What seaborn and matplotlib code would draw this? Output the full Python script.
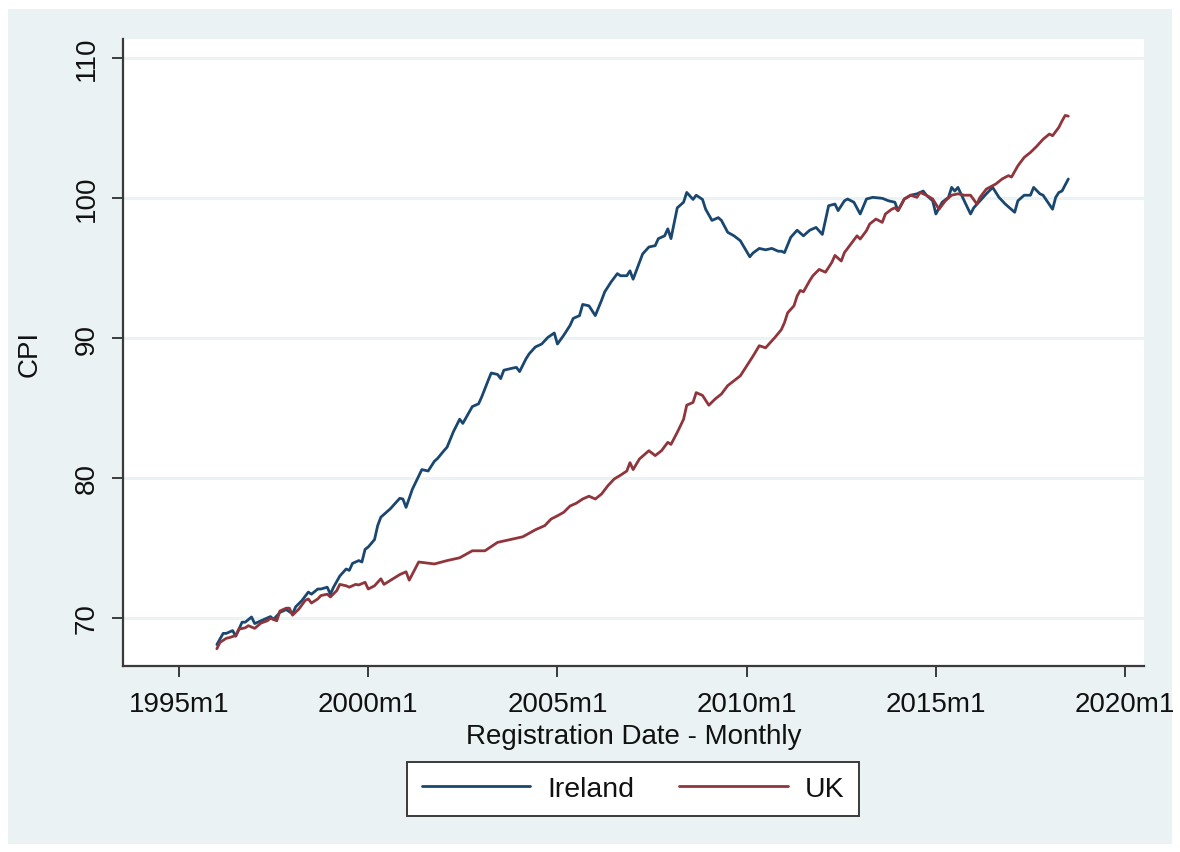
import pandas as pd
import numpy as np
import matplotlib
matplotlib.use("Agg")
import matplotlib.pyplot as plt
import seaborn as sns
from matplotlib.lines import Line2D

# ---- data ----
ie_dates = ["1996-01","1996-03","1996-04","1996-06","1996-07","1996-09","1996-10","1996-12",
            "1997-01","1997-03","1997-04","1997-06","1997-07","1997-09","1997-11",
            "1998-01","1998-02","1998-04","1998-06","1998-07","1998-09","1998-10","1998-12",
            "1999-01","1999-02","1999-04","1999-06","1999-07","1999-08","1999-10","1999-11","1999-12",
            "2000-01","2000-03","2000-04","2000-05","2000-08","2000-11","2000-12",
            "2001-01","2001-03","2001-06","2001-08","2001-10","2001-11",
            "2002-01","2002-02","2002-04","2002-06","2002-07","2002-09","2002-10","2002-12",
            "2003-01","2003-03","2003-04","2003-06","2003-07","2003-08","2003-11","2003-12",
            "2004-01","2004-03","2004-04","2004-06","2004-08","2004-10","2004-12",
            "2005-01","2005-03","2005-05","2005-06","2005-08","2005-09","2005-11",
            "2006-01","2006-03","2006-04","2006-06","2006-08","2006-09","2006-11","2006-12",
            "2007-01","2007-03","2007-04","2007-06","2007-08","2007-09","2007-11","2007-12",
            "2008-01","2008-03","2008-05","2008-06","2008-08","2008-09","2008-11","2008-12",
            "2009-02","2009-04","2009-05","2009-07","2009-09","2009-11",
            "2010-02","2010-03","2010-05","2010-07","2010-09","2010-11","2010-12",
            "2011-01","2011-03","2011-05","2011-07","2011-09","2011-11",
            "2012-01","2012-03","2012-05","2012-06","2012-08","2012-09","2012-11",
            "2013-01","2013-03","2013-05","2013-08","2013-10","2013-12",
            "2014-01","2014-03","2014-05","2014-07","2014-09","2014-10","2014-12",
            "2015-01","2015-03","2015-05","2015-06","2015-07","2015-08","2015-10","2015-12",
            "2016-01","2016-03","2016-05","2016-07","2016-09","2016-11",
            "2017-02","2017-03","2017-05","2017-07","2017-08","2017-10","2017-11",
            "2018-02","2018-03","2018-04","2018-05","2018-07"]
ie_values = [68.1,68.9,68.9,69.1,68.7,69.7,69.7,70.07,
             69.6,69.8,69.9,70.1,69.9,70.4,70.6,
             70.3,70.8,71.25,71.85,71.7,72.07,72.07,72.2,
             71.7,72.2,73.0,73.5,73.4,73.9,74.1,74.0,74.9,
             75.07,75.6,76.6,77.2,77.8,78.55,78.5,
             77.9,79.2,80.6,80.5,81.2,81.4,
             81.95,82.2,83.3,84.2,83.9,84.7,85.1,85.3,
             85.8,86.95,87.5,87.4,87.1,87.7,87.86,87.9,
             87.6,88.5,88.86,89.36,89.57,90.05,90.36,
             89.57,90.2,90.9,91.4,91.6,92.4,92.3,
             91.6,92.7,93.3,94.0,94.6,94.45,94.45,94.8,
             94.2,95.4,96.0,96.5,96.6,97.1,97.3,97.8,
             97.1,99.3,99.7,100.4,99.9,100.2,99.9,99.2,
             98.4,98.6,98.4,97.55,97.3,96.95,
             95.8,96.07,96.4,96.3,96.4,96.2,96.2,
             96.1,97.2,97.7,97.3,97.7,97.9,
             97.4,99.45,99.57,99.1,99.8,99.93,99.7,
             98.86,99.93,100.05,99.98,99.8,99.7,
             99.1,99.93,100.2,100.3,100.5,100.2,99.8,
             98.86,99.7,100.05,100.76,100.5,100.76,99.8,98.86,
             99.3,99.8,100.3,100.76,100.05,99.57,
             98.98,99.8,100.2,100.2,100.76,100.3,100.2,
             99.2,100.05,100.4,100.5,101.36]

uk_dates = ["1996-01","1996-02","1996-04","1996-05","1996-07","1996-08","1996-10","1996-11",
            "1997-01","1997-03","1997-05","1997-06","1997-08","1997-09","1997-11","1997-12",
            "1998-01","1998-03","1998-05","1998-06","1998-07","1998-09","1998-10","1998-12",
            "1999-01","1999-03","1999-04","1999-06","1999-07","1999-09","1999-10","1999-12",
            "2000-01","2000-03","2000-05","2000-06","2000-11",
            "2001-01","2001-02","2001-05","2001-10",
            "2002-02","2002-06","2002-10","2003-02","2003-06","2003-10",
            "2004-02","2004-06","2004-09","2004-11",
            "2005-01","2005-03","2005-05","2005-07","2005-09","2005-11",
            "2006-01","2006-03","2006-05","2006-07","2006-09","2006-11","2006-12",
            "2007-01","2007-03","2007-06","2007-08","2007-10","2007-12",
            "2008-01","2008-03","2008-05","2008-06","2008-08","2008-09","2008-11",
            "2009-01","2009-03","2009-05","2009-07","2009-09","2009-11",
            "2010-01","2010-03","2010-05","2010-07","2010-09","2010-10","2010-12",
            "2011-01","2011-02","2011-04","2011-05","2011-06","2011-07","2011-09","2011-10","2011-12",
            "2012-02","2012-04","2012-05","2012-07","2012-08","2012-10","2012-12",
            "2013-01","2013-03","2013-04","2013-06","2013-08","2013-09","2013-11","2013-12",
            "2014-01","2014-03","2014-05","2014-07","2014-08","2014-10","2014-12",
            "2015-02","2015-04","2015-06","2015-08","2015-10","2015-12",
            "2016-02","2016-03","2016-05","2016-08","2016-10","2016-12",
            "2017-01","2017-03","2017-05","2017-07","2017-09","2017-11",
            "2018-01","2018-02","2018-04","2018-05","2018-06","2018-07"]
uk_values = [67.8,68.26,68.55,68.6,68.75,69.2,69.3,69.45,
             69.26,69.64,69.8,69.98,69.8,70.5,70.7,70.7,
             70.2,70.64,71.25,71.36,71.07,71.36,71.6,71.7,
             71.5,71.95,72.4,72.3,72.2,72.4,72.36,72.55,
             72.07,72.3,72.8,72.4,73.1,
             73.3,72.7,74.0,73.86,
             74.1,74.3,74.8,74.8,75.4,75.6,
             75.8,76.3,76.6,77.07,
             77.3,77.55,78.0,78.2,78.5,78.7,
             78.5,78.86,79.45,79.93,80.2,80.5,81.1,
             80.6,81.36,81.95,81.6,81.95,82.55,
             82.4,83.26,84.2,85.2,85.4,86.1,85.9,
             85.2,85.64,86.0,86.6,86.95,87.3,
             88.0,88.7,89.45,89.3,89.8,90.05,90.6,
             91.1,91.8,92.3,93.0,93.4,93.3,94.1,94.45,94.9,
             94.7,95.4,95.9,95.5,96.1,96.7,97.3,
             97.07,97.67,98.14,98.5,98.26,98.86,99.2,99.3,
             99.1,99.93,100.2,100.05,100.4,100.2,99.93,
             99.2,99.8,100.2,100.3,100.2,100.2,
             99.57,100.05,100.64,101.0,101.36,101.6,
             101.5,102.3,102.9,103.26,103.7,104.2,
             104.57,104.45,105.05,105.5,105.9,105.85]

series_names = ["Ireland", "UK"]
x_ticks_years = [1995, 2000, 2005, 2010, 2015, 2020]
x_tick_labels = ["1995m1", "2000m1", "2005m1", "2010m1", "2015m1", "2020m1"]
y_ticks = [70, 80, 90, 100, 110]


def to_decimal(dates):
    d = pd.to_datetime(dates)
    return d.year + (d.month - 1) / 12.0


df = pd.concat([
    pd.DataFrame({"t": to_decimal(ie_dates), "CPI": ie_values, "country": series_names[0]}),
    pd.DataFrame({"t": to_decimal(uk_dates), "CPI": uk_values, "country": series_names[1]}),
], ignore_index=True)

# ---- style ----
sns.set_theme(style="white")
plt.rcParams["font.family"] = ["Liberation Sans", "DejaVu Sans"]

bg = "#EAF2F3"
axis_col = "#3a3a3a"
text_col = "#111111"
palette = {"Ireland": "#1A476F", "UK": "#90353B"}
fs = 20

fig = plt.figure(figsize=(11.8, 8.53), dpi=100)
fig.patch.set_facecolor("white")
# Stata-like graph region band (inside a thin white border)
band = plt.Rectangle((8 / 1180, 1 - 845 / 853), 1164 / 1180, 835 / 853,
                     transform=fig.transFigure, facecolor=bg,
                     edgecolor="none", zorder=-10)
fig.add_artist(band)

ax = fig.add_axes([123 / 1180, 1 - 667 / 853, (1144 - 123) / 1180, (667 - 40) / 853])
ax.set_zorder(1)
ax.set_facecolor("white")

sns.lineplot(data=df, x="t", y="CPI", hue="country", palette=palette,
             linewidth=2.0, ax=ax, legend=False, estimator=None, sort=True)

ax.set_xlim(1993.52, 2020.5)
ax.set_ylim(66.57, 111.36)

ax.set_yticks(y_ticks)
ax.set_yticklabels([str(v) for v in y_ticks], rotation=90, va="center",
                   fontsize=fs, color=text_col)
ax.set_xticks(x_ticks_years)
ax.set_xticklabels(x_tick_labels, fontsize=fs, color=text_col)

ax.grid(axis="y", color=bg, linewidth=2.0)
ax.grid(axis="x", visible=False)
ax.set_axisbelow(True)

for s in ["top", "right"]:
    ax.spines[s].set_visible(False)
for s in ["left", "bottom"]:
    ax.spines[s].set_color(axis_col)
    ax.spines[s].set_linewidth(1.6)

ax.tick_params(axis="both", which="major", length=8, width=1.4, color=axis_col,
               direction="out", left=True, bottom=True)
ax.tick_params(axis="x", pad=10)
ax.tick_params(axis="y", pad=9)

ax.set_xlabel("Registration Date - Monthly", fontsize=fs, color=text_col, labelpad=4)
ax.set_ylabel("CPI", fontsize=fs, color=text_col, labelpad=22)

# legend
handles = [Line2D([0], [0], color=palette[n], linewidth=2.0) for n in series_names]
leg = fig.legend(handles, series_names, loc="center",
                 bbox_to_anchor=(633 / 1180, 1 - 790 / 853), ncol=2,
                 fontsize=20.5, frameon=True, fancybox=False, framealpha=1,
                 handlelength=3.8, handletextpad=0.6, columnspacing=1.6,
                 borderpad=0.5, borderaxespad=0)
leg.get_frame().set_edgecolor(axis_col)
leg.get_frame().set_linewidth(1.4)
leg.get_frame().set_facecolor("white")
for t in leg.get_texts():
    t.set_color(text_col)

fig.savefig("out.png", dpi=100, facecolor=fig.get_facecolor())
